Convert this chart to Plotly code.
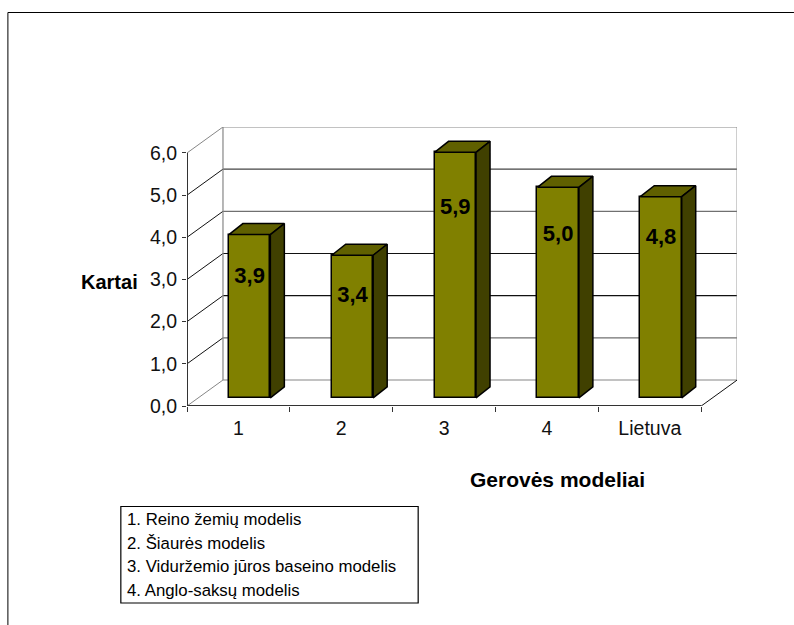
import plotly.graph_objects as go

# ---- data ----
categories = ["1", "2", "3", "4", "Lietuva"]
values = [3.87, 3.38, 5.82, 4.99, 4.77]
value_labels = ["3,9", "3,4", "5,9", "5,0", "4,8"]
y_ticks = [0, 1, 2, 3, 4, 5, 6]
legend_lines = [
    "1. Reino žemių modelis",
    "2. Šiaurės modelis",
    "3. Viduržemio jūros baseino modelis",
    "4. Anglo-saksų modelis",
]
y_title = "Kartai"
x_title = "Gerovės modeliai"

# ---- layout constants (pixels on the page) ----
W, H = 794, 625
L, R, T, B = 186.7, 737.0, 127.0, 406.0   # plot box
PX_X = 102.9                              # px per category
PX_Y = 42.17                              # px per value unit
WALL_DX, WALL_DY = 36.0 / PX_X, 26.0 / PX_Y
BAR_W = 41.5 / PX_X
BAR_DX, BAR_DY = 14.0 / PX_X, 11.0 / PX_Y
BASE_DY = 8.2 / PX_Y
BASE_DX = 11.2 / PX_X
LABEL_DROP = [42.5, 41.5, 56.5, 48.5, 42]  # label centre below the bar top, px

FRONT = "#808000"
TOP = "#606000"
SIDE = "#404000"
GREY = "#868686"
DARK = "#444444"
BLACK = "#111111"
FONT = "Liberation Sans, Arial, sans-serif"

xmax = (R - L) / PX_X
ymax = (B - T) / PX_Y


def px(x):
    return (x - L) / (R - L)


def py(y):
    return (B - y) / (B - T)


fig = go.Figure()

n = len(categories)
centres = [i + 0.5 + BASE_DX for i in range(n)]

# bar fronts
fig.add_trace(go.Bar(
    x=centres, y=values, base=[BASE_DY] * n, width=BAR_W,
    marker=dict(color=FRONT, line=dict(color="black", width=1.5)),
    showlegend=False, hoverinfo="skip",
))

# bar top and side faces, derived from each value
for c, v in zip(centres, values):
    x0, x1 = c - BAR_W / 2, c + BAR_W / 2
    y0, y1 = BASE_DY, BASE_DY + v
    fig.add_trace(go.Scatter(
        x=[x0, x0 + BAR_DX, x1 + BAR_DX, x1, x0],
        y=[y1, y1 + BAR_DY, y1 + BAR_DY, y1, y1],
        mode="lines", fill="toself", fillcolor=TOP,
        line=dict(color="black", width=1.5),
        showlegend=False, hoverinfo="skip",
    ))
    fig.add_trace(go.Scatter(
        x=[x1, x1 + BAR_DX, x1 + BAR_DX, x1, x1],
        y=[y1, y1 + BAR_DY, y0 + BAR_DY, y0, y1],
        mode="lines", fill="toself", fillcolor=SIDE,
        line=dict(color="black", width=1.5),
        showlegend=False, hoverinfo="skip",
    ))

# value labels
fig.add_trace(go.Scatter(
    x=centres,
    y=[BASE_DY + v - d / PX_Y for v, d in zip(values, LABEL_DROP)],
    text=value_labels, mode="text", textposition="middle center",
    textfont=dict(family=FONT, size=22, color="black"),
    texttemplate="<b>%{text}</b>",
    showlegend=False, hoverinfo="skip",
))

# axis lines (bottom one lives on the overlay axis that carries the boundary ticks)
fig.add_trace(go.Scatter(
    x=[0, 0], y=[0, max(y_ticks)], mode="lines", cliponaxis=False,
    line=dict(color="#333333", width=2), showlegend=False, hoverinfo="skip",
))
fig.add_trace(go.Scatter(
    x=[0, n], y=[0, 0], xaxis="x2", mode="lines", cliponaxis=False,
    line=dict(color="#333333", width=2), showlegend=False, hoverinfo="skip",
))

# walls and gridlines, below the bars
shapes = []


def seg(x0, y0, x1, y1, color, width=1.2):
    shapes.append(dict(type="line", xref="x", yref="y", x0=x0, y0=y0, x1=x1, y1=y1,
                       layer="below", line=dict(color=color, width=width)))


grid_colors = {0: GREY, 1: "#707070", 2: BLACK, 3: BLACK, 4: "#707070", 5: DARK, 6: GREY}
diag_colors = {0: GREY, 1: BLACK, 2: BLACK, 3: BLACK, 4: BLACK, 5: BLACK, 6: GREY}
for t in y_ticks:
    seg(WALL_DX, t + WALL_DY, n + WALL_DX, t + WALL_DY, grid_colors[t])
    seg(0, t, WALL_DX, t + WALL_DY, diag_colors[t], 1)
seg(WALL_DX, WALL_DY, WALL_DX, max(y_ticks) + WALL_DY, GREY)
seg(n + WALL_DX, WALL_DY, n + WALL_DX, max(y_ticks) + WALL_DY, GREY)
seg(n, 0, n + WALL_DX, WALL_DY, BLACK, 1)


# page frame and legend box
def page_line(x0, y0, x1, y1):
    shapes.append(dict(type="line", xref="paper", yref="paper",
                       x0=px(x0), y0=py(y0), x1=px(x1), y1=py(y1),
                       line=dict(color="black", width=1)))


page_line(7.5, 12.5, 794, 12.5)
page_line(7.5, 12.5, 7.5, 625)
shapes.append(dict(type="rect", xref="paper", yref="paper",
                   x0=px(120.5), y0=py(506.5), x1=px(418), y1=py(603),
                   line=dict(color="black", width=1.2), fillcolor="white"))

annotations = [
    dict(text=f"<b>{y_title}</b>", xref="paper", yref="paper", x=px(109), y=py(282),
         showarrow=False, font=dict(family=FONT, size=20, color="black"),
         xanchor="center", yanchor="middle"),
    dict(text=f"<b>{x_title}</b>", xref="paper", yref="paper", x=px(557), y=py(479),
         showarrow=False, font=dict(family=FONT, size=21, color="black"),
         xanchor="center", yanchor="middle"),
]
for line, ypx in zip(legend_lines, [519, 543, 566, 590]):
    annotations.append(dict(text=line, xref="paper", yref="paper", x=px(124.5), y=py(ypx),
                            showarrow=False, font=dict(family=FONT, size=16.8, color="black"),
                            xanchor="left", yanchor="middle"))

fig.update_layout(
    width=W, height=H,
    margin=dict(l=L, r=W - R, t=T, b=H - B, pad=0),
    paper_bgcolor="white", plot_bgcolor="white",
    separators=",.",
    showlegend=False,
    bargap=0,
    shapes=shapes, annotations=annotations,
    xaxis=dict(range=[0, xmax], tickmode="array",
               tickvals=[i + 0.5 for i in range(n)], ticktext=categories,
               ticks="outside", ticklen=5, tickcolor="rgba(0,0,0,0)",
               showgrid=False, zeroline=False, showline=False,
               tickfont=dict(family=FONT, size=19.5, color="#111111")),
    xaxis2=dict(range=[0, xmax], overlaying="x", anchor="y", side="bottom",
                tickmode="array", tickvals=list(range(n + 1)),
                ticks="outside", ticklen=5, tickwidth=1.3, tickcolor="#333333",
                showticklabels=False, showgrid=False, zeroline=False, showline=False),
    yaxis=dict(range=[0, ymax], tickmode="array", tickvals=y_ticks, tickformat=".1f",
               ticks="outside", ticklen=4, tickwidth=1.3, tickcolor="#333333",
               ticklabelstandoff=1,
               showgrid=False, zeroline=False, showline=False,
               tickfont=dict(family=FONT, size=19.5, color="#111111")),
)

fig.write_html("out.html", config={"displayModeBar": False},
               post_script="document.body.style.margin='0';")
